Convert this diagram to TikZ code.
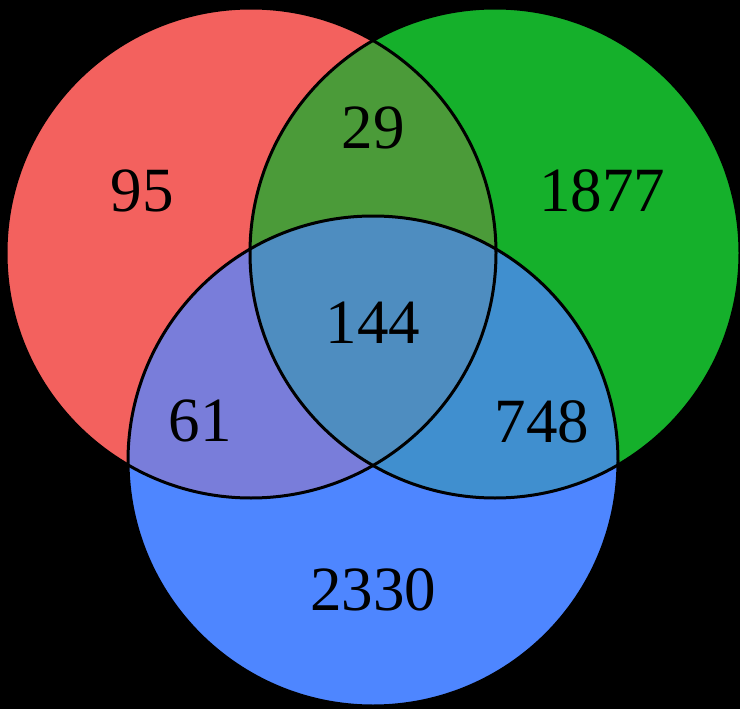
\documentclass[tikz,border=0pt]{standalone}
\usepackage{fontspec}
\setmainfont{Liberation Serif}
\definecolor{cred}{RGB}{243,97,94}
\definecolor{cgreen}{RGB}{21,176,43}
\definecolor{cblue}{RGB}{78,134,255}
\definecolor{crg}{RGB}{75,155,57}
\definecolor{crb}{RGB}{121,125,218}
\definecolor{cgb}{RGB}{64,143,207}
\definecolor{crgb}{RGB}{78,141,192}
\tikzset{
  count/.style={font=\fontsize{63}{63}\selectfont, text=black, inner sep=0pt},
  rim/.style={draw=black, line width=3pt}
}
\begin{document}
\begin{tikzpicture}[x=1pt, y=-1pt]
  % canvas
  \fill[black] (0,0) rectangle (740,709);
  \useasboundingbox (0,0) rectangle (740,709);
  \def\rad{245}
  \coordinate (R) at (251,253);
  \coordinate (G) at (495,253);
  \coordinate (B) at (373,461);
  % single sets
  \fill[cred] (R) circle[radius=\rad];
  \fill[cgreen] (G) circle[radius=\rad];
  \fill[cblue] (B) circle[radius=\rad];
  % pairwise overlaps
  \begin{scope}
    \clip (R) circle[radius=\rad];
    \fill[crg] (G) circle[radius=\rad];
    \fill[crb] (B) circle[radius=\rad];
  \end{scope}
  \begin{scope}
    \clip (G) circle[radius=\rad];
    \fill[cgb] (B) circle[radius=\rad];
  \end{scope}
  % triple overlap
  \begin{scope}
    \clip (R) circle[radius=\rad];
    \clip (G) circle[radius=\rad];
    \fill[crgb] (B) circle[radius=\rad];
  \end{scope}
  % outlines
  \draw[rim] (R) circle[radius=\rad];
  \draw[rim] (G) circle[radius=\rad];
  \draw[rim] (B) circle[radius=\rad];
  % counts
  \node[count] (nr) at (142,191) {95};
  \node[count] (nrg) at (373,128) {29};
  \node[count] (ng) at (602,191) {1877};
  \node[count] (nrgb) at (373,323) {144};
  \node[count] (nrb) at (200,421) {61};
  \node[count] (ngb) at (542,422) {748};
  \node[count] (nb) at (373,590) {2330};
\end{tikzpicture}
\end{document}
